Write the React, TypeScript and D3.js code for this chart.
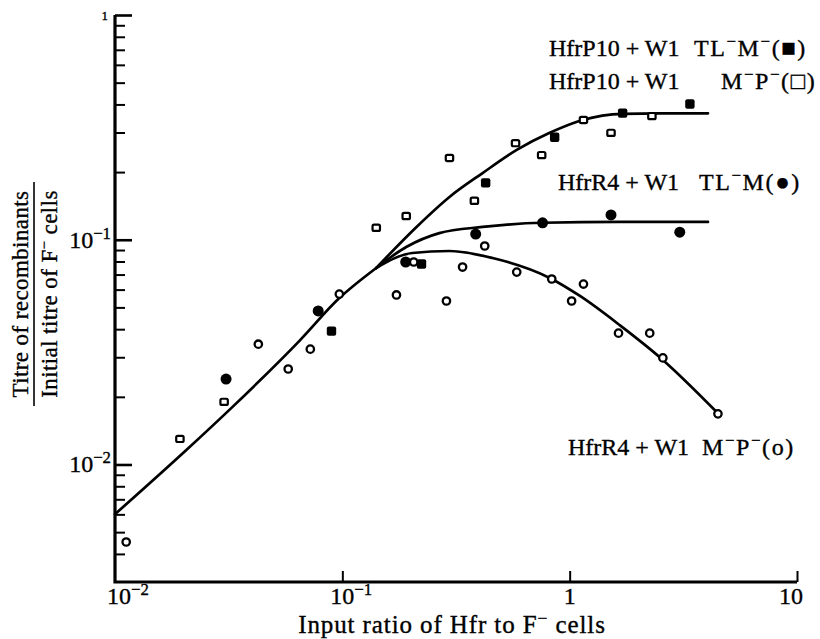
import React, { useRef, useEffect } from "react";
import * as d3 from "d3";

// HfrR4 + W1  M-P-  (open circles)
const r4MPPoints = [
  [0.0112, 0.00452], [0.0427, 0.0343], [0.0578, 0.0266], [0.0723, 0.0326],
  [0.097, 0.0573], [0.173, 0.0568], [0.206, 0.0796], [0.287, 0.0534],
  [0.338, 0.0756], [0.423, 0.0938], [0.585, 0.0718], [0.834, 0.0669],
  [1.02, 0.0534], [1.15, 0.0635], [1.64, 0.0384], [2.25, 0.0384],
  [2.57, 0.0298], [4.49, 0.0168],
];

// HfrP10 + W1  M-P-  (open squares)
const p10MPPoints = [
  [0.0193, 0.013], [0.0302, 0.019], [0.141, 0.113], [0.191, 0.1275],
  [0.296, 0.231], [0.381, 0.149], [0.578, 0.269], [0.753, 0.238],
  [1.15, 0.341], [1.52, 0.299], [2.3, 0.355],
];

// HfrR4 + W1  TL-M  (filled circles)
const r4TLPoints = [
  [0.0308, 0.024], [0.0783, 0.0482], [0.19, 0.0796], [0.386, 0.106],
  [0.76, 0.119], [1.52, 0.129], [3.05, 0.108],
];

// HfrP10 + W1  TL-M-  (filled squares)
const p10TLPoints = [
  [0.0896, 0.0392], [0.223, 0.078], [0.427, 0.179], [0.859, 0.286],
  [1.71, 0.366], [3.38, 0.402],
];

// fitted curves (common start, then three branches)
const trunkCurve = [
  [0.01, 0.00601], [0.0206, 0.0116], [0.0328, 0.018], [0.0646, 0.0354],
  [0.097, 0.055], [0.141, 0.0749],
];
const p10Curve = [
  [0.141, 0.0749], [0.212, 0.114], [0.296, 0.155], [0.414, 0.198],
  [0.585, 0.251], [0.817, 0.299], [1.14, 0.341], [1.71, 0.363],
  [2.49, 0.365], [4.06, 0.365],
];
const r4TLCurve = [
  [0.141, 0.0749], [0.191, 0.0928], [0.267, 0.107], [0.414, 0.114],
  [0.76, 0.119], [1.66, 0.12], [4.06, 0.12],
];
const r4MPCurve = [
  [0.141, 0.0749], [0.203, 0.0873], [0.296, 0.0891], [0.458, 0.0829],
  [0.817, 0.0676], [1.11, 0.0562], [1.66, 0.0417], [2.57, 0.0292],
  [4.49, 0.0169],
];

const yMajorTicks = [0.01, 0.1, 1];
const yMinorTicks = [
  0.004, 0.005, 0.006, 0.007, 0.008, 0.009,
  0.02, 0.03, 0.04, 0.05, 0.06, 0.07, 0.08, 0.09,
  0.2, 0.3, 0.4, 0.5, 0.6, 0.7, 0.8, 0.9,
];
const xTicks = [0.1, 1, 10];

type Part = [string, boolean];

function App() {
  const ref = useRef<SVGSVGElement>(null);

  useEffect(() => {
    const width = 820;
    const height = 639;
    const svg = d3.select(ref.current);
    svg.selectAll("*").remove();
    svg.attr("width", width).attr("height", height);

    const x = d3.scaleLog().domain([0.01, 10]).range([115, 797]);
    const y = d3.scaleLog().domain([0.003, 1]).range([582, 15]);

    const font = "'Liberation Serif', 'DejaVu Serif', serif";
    const g = svg.append("g");
    // all the text lives here, a bit heavier like the printed figure
    const tg = svg
      .append("g")
      .attr("font-family", font)
      .attr("fill", "#000")
      .attr("stroke", "#000")
      .attr("stroke-width", 0.35);

    const rich = (px: number, py: number, parts: Part[], size: number, anchor = "start", spacing = 0) => {
      const t = tg
        .append("text")
        .attr("x", px)
        .attr("y", py)
        .attr("font-size", size)
        .attr("letter-spacing", spacing)
        .attr("text-anchor", anchor);
      let up = false;
      parts.forEach(([s, sup]) => {
        const ts = t.append("tspan").text(s);
        if (sup) {
          ts.attr("font-size", size * 0.7);
          if (!up) ts.attr("dy", -size * 0.38);
          up = true;
        } else if (up) {
          ts.attr("dy", size * 0.38);
          up = false;
        }
      });
      return t;
    };

    // y axis ticks (pointing inward)
    g.append("g")
      .attr("transform", "translate(115,0)")
      .call(d3.axisRight(y).tickValues(yMinorTicks).tickSize(10).tickSizeOuter(0).tickFormat(() => ""))
      .call((a) => a.select(".domain").remove())
      .selectAll("line")
      .attr("stroke", "#000")
      .attr("stroke-width", 2);
    g.append("g")
      .attr("transform", "translate(115,0)")
      .call(d3.axisRight(y).tickValues(yMajorTicks).tickSize(17).tickSizeOuter(0).tickFormat(() => ""))
      .call((a) => a.select(".domain").remove())
      .selectAll("line")
      .attr("stroke", "#000")
      .attr("stroke-width", 2.6);

    // x axis ticks (pointing up)
    g.append("g")
      .attr("transform", "translate(0,582)")
      .call(d3.axisTop(x).tickValues(xTicks).tickSize(11).tickSizeOuter(0).tickFormat(() => ""))
      .call((a) => a.select(".domain").remove())
      .selectAll("line")
      .attr("stroke", "#000")
      .attr("stroke-width", 2);

    // axis lines
    g.append("path")
      .attr("d", `M115,${y(1)}V582H${x(10)}`)
      .attr("fill", "none")
      .attr("stroke", "#000")
      .attr("stroke-width", 3.2);

    // tick labels
    rich(111, y(0.1) + 8, [["10", false], ["−1", true]], 24, "end");
    rich(111, y(0.01) + 8, [["10", false], ["−2", true]], 24, "end");
    tg.append("text").attr("x", 108).attr("y", y(1) + 5).attr("font-size", 13).attr("text-anchor", "end").text("1");

    rich(x(0.01) - 8, 604, [["10", false], ["−2", true]], 24);
    rich(x(0.1) - 12, 604, [["10", false], ["−1", true]], 24);
    tg.append("text").attr("x", x(1)).attr("y", 604).attr("font-size", 24).attr("text-anchor", "middle").text("1");
    tg.append("text").attr("x", x(10) - 6).attr("y", 604).attr("font-size", 24).attr("text-anchor", "middle").text("10");

    // axis titles
    rich(452, 633, [["Input ratio of Hfr to F", false], ["−", true], [" cells", false]], 25, "middle", 0.9);

    const yt = tg.append("g").attr("transform", "translate(0,294) rotate(-90)");
    yt.append("text")
      .attr("x", 0)
      .attr("y", 28)
      .attr("font-size", 23)
      .attr("letter-spacing", 0.4)
      .attr("text-anchor", "middle")
      .text("Titre of recombinants");
    yt.append("line")
      .attr("x1", -112)
      .attr("x2", 112)
      .attr("y1", 34)
      .attr("y2", 34)
      .attr("stroke", "#000")
      .attr("stroke-width", 1.6);
    const den = yt
      .append("text")
      .attr("x", 0)
      .attr("y", 57)
      .attr("font-size", 23)
      .attr("letter-spacing", 0.4)
      .attr("text-anchor", "middle");
    den.append("tspan").text("Initial titre of F");
    den.append("tspan").attr("font-size", 15).attr("dy", -8).text("−");
    den.append("tspan").attr("dy", 8).text(" cells");

    // curves
    const line = d3
      .line<number[]>()
      .x((d) => x(d[0]))
      .y((d) => y(d[1]))
      .curve(d3.curveMonotoneX);

    [trunkCurve, p10Curve, r4TLCurve, r4MPCurve].forEach((c) => {
      g.append("path")
        .attr("d", line(c))
        .attr("fill", "none")
        .attr("stroke", "#000")
        .attr("stroke-width", 2.7)
        .attr("stroke-linecap", "round");
    });

    // markers
    g.selectAll(".oc")
      .data(r4MPPoints)
      .enter()
      .append("circle")
      .attr("cx", (d) => x(d[0]))
      .attr("cy", (d) => y(d[1]))
      .attr("r", 3.7)
      .attr("fill", "#fff")
      .attr("stroke", "#000")
      .attr("stroke-width", 2.3);

    g.selectAll(".os")
      .data(p10MPPoints)
      .enter()
      .append("rect")
      .attr("x", (d) => x(d[0]) - 3.7)
      .attr("y", (d) => y(d[1]) - 3.1)
      .attr("width", 7.4)
      .attr("height", 6.2)
      .attr("rx", 1.5)
      .attr("fill", "#fff")
      .attr("stroke", "#000")
      .attr("stroke-width", 2.2);

    g.selectAll(".fc")
      .data(r4TLPoints)
      .enter()
      .append("circle")
      .attr("cx", (d) => x(d[0]))
      .attr("cy", (d) => y(d[1]))
      .attr("r", 5.5)
      .attr("fill", "#000");

    g.selectAll(".fs")
      .data(p10TLPoints)
      .enter()
      .append("rect")
      .attr("x", (d) => x(d[0]) - 4.7)
      .attr("y", (d) => y(d[1]) - 4.7)
      .attr("width", 9.4)
      .attr("height", 9.4)
      .attr("rx", 2)
      .attr("fill", "#000");

    // series labels
    tg.append("text").attr("x", 549).attr("y", 56).attr("font-size", 24).text("HfrP10 + W1");
    rich(694, 56, [["TL", false], ["−", true], ["M", false], ["−", true], ["(■)", false]], 24, "start", 1.6);
    tg.append("text").attr("x", 549).attr("y", 89).attr("font-size", 24).text("HfrP10 + W1");
    rich(721, 89, [["M", false], ["−", true], ["P", false], ["−", true], ["(□)", false]], 24, "start", 1.6);
    tg.append("text").attr("x", 558).attr("y", 190).attr("font-size", 24).text("HfrR4 + W1");
    rich(699, 190, [["TL", false], ["−", true], ["M(●)", false]], 24, "start", 1.6);
    tg.append("text").attr("x", 568).attr("y", 455).attr("font-size", 24).text("HfrR4 + W1");
    rich(702, 455, [["M", false], ["−", true], ["P", false], ["−", true], ["(o)", false]], 24, "start", 1.6);
  }, []);

  return (
    <svg
      ref={ref}
      style={{ position: "absolute", left: 0, top: 0, display: "block", background: "#fff" }}
    ></svg>
  );
}

export default App;
